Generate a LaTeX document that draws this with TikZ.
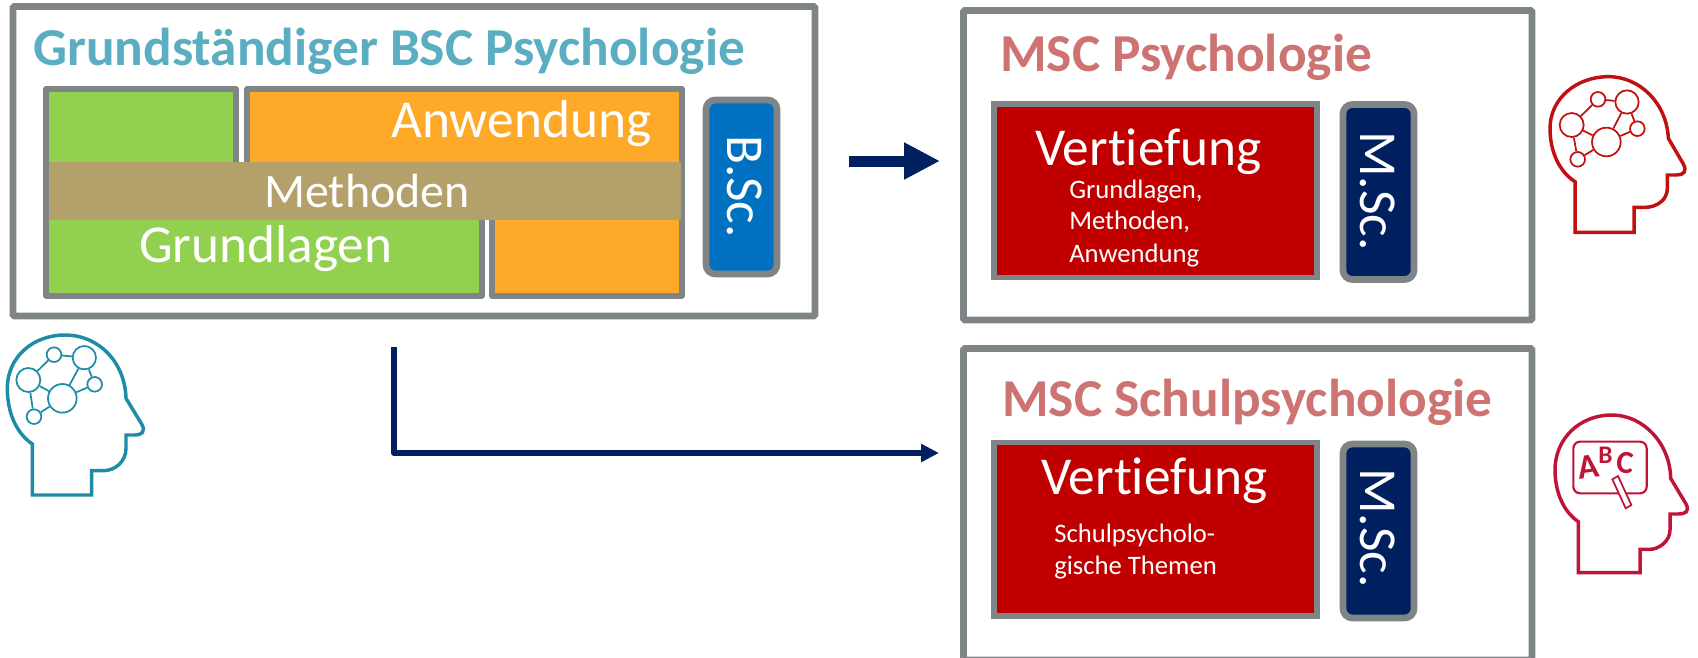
\documentclass[tikz,border=0pt]{standalone}
\usepackage{fontspec}
\setmainfont[Ligatures=CommonOff]{Carlito}
\usetikzlibrary{arrows.meta}
\definecolor{boxgray}{HTML}{7F8487}
\definecolor{fgreen}{HTML}{92D050}
\definecolor{forange}{HTML}{FFA929}
\definecolor{fband}{HTML}{B3A06A}
\definecolor{fblue}{HTML}{0070C0}
\definecolor{fnavy}{HTML}{002060}
\definecolor{fred}{HTML}{C00000}
\definecolor{ttlteal}{HTML}{5BAEC2}
\definecolor{ttlred}{HTML}{CD7371}
\definecolor{headteal}{HTML}{1E8CA6}
\definecolor{headred}{HTML}{C0100F}
\definecolor{headrose}{HTML}{BE1437}
\tikzset{
  frame/.style={draw=boxgray,line width=5pt,fill=white,rounded corners=1pt,inner sep=0pt},
  part/.style={draw=boxgray,line width=4pt,line join=round},
  degree/.style={draw=boxgray,line width=5pt,rounded corners=7pt,inner sep=0pt},
  deep/.style={draw=boxgray,line width=4pt,fill=fred,inner sep=0pt},
  band/.style={fill=fband,inner sep=0pt},
  ttl/.style={anchor=base west,inner sep=0pt,font=\fontsize{40}{40}\selectfont\bfseries},
  big/.style={anchor=base west,inner sep=0pt,text=white,font=\fontsize{40}{40}\selectfont},
  mid/.style={anchor=base west,inner sep=0pt,text=white,font=\fontsize{36}{36}\selectfont},
  small/.style={anchor=base west,inner sep=0pt,text=white,font=\fontsize{20}{20}\selectfont},
  deg/.style={rotate=-90,inner sep=0pt,text=white,font=\fontsize{40}{40}\selectfont},
  bigarrow/.style={draw=fnavy,line width=8.25pt,-{Triangle[length=27pt,width=26pt]}},
  thinarrow/.style={draw=fnavy,line width=4.5pt,line join=round,-{Triangle[length=13.5pt,width=13pt]}},
  headline/.style={line width=2.6pt,line join=miter},
  neuron/.style={circle,fill=white,line width=1.3pt,inner sep=0pt},
  synapse/.style={line width=1.3pt},
}
\newcommand{\rectnode}[6]{\node[#1,minimum width={(#5-#3)*0.75pt},minimum height={(#6-#4)*0.75pt}] (#2) at ({(#3+#5)/2},{(#4+#6)/2}) {};}
% brain: prefix, colour, then six centres
\newcommand{\brain}[8]{%
  \node[neuron,draw=#2,minimum size=18pt] (#1a) at (#3) {};
  \node[neuron,draw=#2,minimum size=11pt] (#1b) at (#4) {};
  \node[neuron,draw=#2,minimum size=17.5pt] (#1c) at (#5) {};
  \node[neuron,draw=#2,minimum size=11pt] (#1d) at (#6) {};
  \node[neuron,draw=#2,minimum size=21.5pt] (#1e) at (#7) {};
  \node[neuron,draw=#2,minimum size=11pt] (#1f) at (#8) {};
  \draw[synapse,#2] (#1a)--(#1b) (#1b)--(#1c) (#1c)--(#1e) (#1c)--(#1d) (#1d)--(#1e) (#1a)--(#1e) (#1a)--(#1f) (#1f)--(#1e);
}
\begin{document}
\begin{tikzpicture}[x=0.75pt,y=-0.75pt]
\useasboundingbox (0,0) rectangle (1698,657);
\clip (0,0) rectangle (1698,657);
% frames
\rectnode{frame}{bsc}{13}{6.5}{815}{316}
\rectnode{frame}{mscone}{963.5}{10.5}{1532}{320}
\rectnode{frame}{msctwo}{963.5}{348.5}{1532}{660}
% BSc blocks
\draw[part,fill=fgreen] (46,89)--(236,89)--(236,190)--(482,190)--(482,296)--(46,296)--cycle;
\draw[part,fill=forange] (247,89)--(682,89)--(682,296)--(492,296)--(492,190)--(247,190)--cycle;
\rectnode{band}{methods}{48.5}{162}{681}{220}
\rectnode{degree,fill=fblue}{bdeg}{706}{100}{777}{274}
\node[big] (anw) at (391,137) {Anwendung};
\node[mid] (meth) at (264,207) {Methoden};
\node[big] (grund) at (139,262) {Grundlagen};
\node[deg] (bsctext) at (745,186.5) {B.Sc.};
\node[ttl,text=ttlteal] (ttlbsc) at (33,65) {Grundständiger BSC Psychologie};
% MSc Psychologie
\node[ttl,text=ttlred] (ttlone) at (1000,71) {MSC Psychologie};
\rectnode{deep}{vone}{994}{104}{1317}{277.5}
\rectnode{degree,fill=fnavy}{mone}{1343}{104.5}{1414}{279.5}
\node[big] (vtextone) at (1035,165) {Vertiefung};
\node[small] (s1) at (1069,198) {Grundlagen,};
\node[small] (s2) at (1069,229) {Methoden,};
\node[small] (s3) at (1069,262) {Anwendung};
\node[deg] (mtextone) at (1378,191) {M.Sc.};
% MSc Schulpsychologie
\node[ttl,text=ttlred] (ttltwo) at (1002,416) {MSC Schulpsychologie};
\rectnode{deep}{vtwo}{994}{442.5}{1317}{616}
\rectnode{degree,fill=fnavy}{mtwo}{1343}{444}{1414}{618}
\node[big] (vtexttwo) at (1041,494) {Vertiefung};
\node[small] (t1) at (1054,542) {Schulpsycholo-};
\node[small] (t2) at (1054,574) {gische Themen};
\node[deg] (mtexttwo) at (1378,528) {M.Sc.};
% arrows
\coordinate (aone) at (849,161);
\coordinate (bone) at (940,161);
\draw[bigarrow] (aone)--(bone);
\coordinate (atwo) at (394,347);
\coordinate (ctwo) at (394,453);
\coordinate (btwo) at (939,453);
\draw[thinarrow] (atwo)--(ctwo)--(btwo);
% teal head
\begin{scope}[shift={(0,320)},x=0.25pt,y=-0.25pt]
\draw[headline,headteal] (97,525)--(97,372) .. controls (50,340) and (22,280) .. (22,205) .. controls (22,110) and (100,45) .. (195,45) .. controls (295,45) and (375,125) .. (378,235) -- (425,312) .. controls (438,335) and (425,345) .. (405,345) -- (378,345) -- (378,385) .. controls (378,425) and (345,452) .. (310,452) -- (275,452) -- (275,525) -- cycle;
\brain{p}{headteal}{85,180}{162,104}{253,113}{284,193}{187,235}{102,290}
\end{scope}
% red head
\begin{scope}[shift={(1530,60)},x=0.25pt,y=-0.25pt]
\draw[headline,headred] (135,517)--(135,365) .. controls (88,335) and (60,275) .. (60,205) .. controls (60,115) and (140,50) .. (235,50) .. controls (330,50) and (410,130) .. (415,235) -- (460,312) .. controls (472,335) and (460,345) .. (440,345) -- (412,345) -- (412,385) .. controls (412,420) and (380,442) .. (345,442) -- (312,442) -- (312,517) -- cycle;
\brain{q}{headred}{125,195}{204,118}{291,126}{322,206}{229,246}{143,298}
\end{scope}
% rose head
\begin{scope}[shift={(1530,400)},x=0.25pt,y=-0.25pt]
\draw[headline,headrose] (145,518)--(145,365) .. controls (100,335) and (75,275) .. (75,210) .. controls (75,115) and (150,45) .. (245,45) .. controls (340,45) and (420,130) .. (422,235) -- (468,312) .. controls (480,335) and (465,342) .. (445,342) -- (420,342) -- (420,390) .. controls (420,425) and (385,448) .. (360,448) -- (330,448) -- (330,518) -- cycle;
\draw[line width=1.6pt,headrose,rounded corners=5pt] (130,125) rectangle (350,280);
\node[inner sep=0pt,text=headrose,font=\fontsize{26}{26}\selectfont\bfseries,rotate=8] (la) at (175,200) {A};
\node[inner sep=0pt,text=headrose,font=\fontsize{19}{19}\selectfont\bfseries] (lb) at (226,165) {B};
\node[inner sep=0pt,text=headrose,font=\fontsize{24}{24}\selectfont\bfseries,rotate=-5] (lc) at (285,188) {C};
\draw[line width=1.3pt,headrose,fill=white] (247,238)--(264,228)--(304,315)--(287,325)--cycle;
\end{scope}
\end{tikzpicture}
\end{document}
